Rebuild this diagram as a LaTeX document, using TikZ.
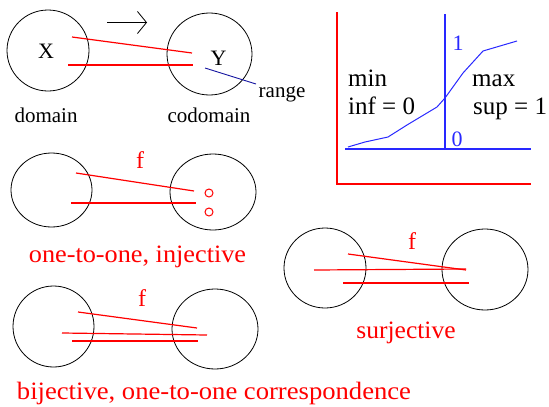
\documentclass[tikz,border=0pt]{standalone}
\usepackage{fontspec}
\setmainfont{Liberation Serif}
\usetikzlibrary{arrows.meta,shapes.geometric}
\definecolor{fred}{RGB}{255,0,0}
\definecolor{gblue}{RGB}{40,40,255}
\definecolor{rblue}{RGB}{20,20,160}
\tikzset{
  setc/.style={draw=black,line width=0.8pt,ellipse,inner sep=0pt,outer sep=0pt},
  mapl/.style={draw=fred,line width=1.2pt},
  lbl/.style={anchor=base,inner sep=0pt,font=\fontsize{21}{24}\selectfont},
  big/.style={anchor=base,inner sep=0pt,font=\fontsize{25}{28}\selectfont},
  rtxt/.style={anchor=base,inner sep=0pt,text=fred,font=\fontsize{25}{28}\selectfont},
  fl/.style={anchor=base,inner sep=0pt,text=fred,font=\fontsize{24}{28}\selectfont},
  btxt/.style={anchor=base,inner sep=0pt,text=gblue,font=\fontsize{22}{26}\selectfont},
}
\begin{document}
\begin{tikzpicture}[x=1pt,y=-1pt]
\useasboundingbox (0,0) rectangle (549,407);
% ---- top: domain / codomain
\node[setc,minimum width=82pt,minimum height=81pt] (D) at (48,50.5) {};
\node[setc,minimum width=85pt,minimum height=82pt] (C) at (209.5,54) {};
\node[lbl,font=\fontsize{22}{24}\selectfont] (X) at (46,58) {X};
\node[lbl,font=\fontsize{22}{24}\selectfont] (Y) at (218.5,65) {Y};
\node[lbl] (dom) at (46,122) {domain};
\node[lbl] (cod) at (209,122) {codomain};
\node[lbl] (rng) at (282,97) {range};
\coordinate (ar1) at (107,22.5); \coordinate (ar2) at (147,22.5);
\draw[line width=0.8pt,-{Straight Barb[length=9pt,width=22pt,line width=0.8pt]}] (ar1) -- (ar2);
\coordinate (a1) at (72,37); \coordinate (b1) at (192,53);
\coordinate (a2) at (68,65); \coordinate (b2) at (193,65);
\draw[mapl] (a1) -- (b1); \draw[mapl] (a2) -- (b2);
\coordinate (r1) at (205,68); \coordinate (r2) at (256,84);
\draw[rblue,line width=0.9pt] (r1) -- (r2);
% ---- graph
\coordinate (o) at (337,184); \coordinate (oy) at (337,12); \coordinate (ox) at (531,184);
\draw[fred,line width=1.2pt] (oy) -- (o) -- (ox);
\coordinate (vy1) at (445,14); \coordinate (vy2) at (445,149);
\coordinate (hx1) at (345,149); \coordinate (hx2) at (531,149);
\draw[gblue,line width=1.2pt] (vy1) -- (vy2);
\draw[gblue,line width=1.2pt] (hx1) -- (hx2);
\draw[gblue,line width=1pt] (348,147) -- (365,142) -- (388,137) -- (407,125) -- (437,107) -- (445,98) -- (463,73) -- (483,51) -- (517,41);
\node[btxt] (one) at (458,50) {1};
\node[btxt] (zero) at (457,146) {0};
\node[big,anchor=base west] (min) at (348,86) {min};
\node[big,anchor=base west] (inf) at (348,114) {inf = 0};
\node[big,anchor=base west] (max) at (472,86) {max};
\node[big,anchor=base west] (sup) at (473,114) {sup = 1};
% ---- injective
\node[setc,minimum width=81pt,minimum height=74pt] (I1) at (51.5,190) {};
\node[setc,minimum width=86pt,minimum height=76pt] (I2) at (213,192) {};
\node[fl] (f1) at (140,168) {f};
\coordinate (ia1) at (76,173); \coordinate (ib1) at (194,191);
\coordinate (ia2) at (71,203); \coordinate (ib2) at (196,203);
\draw[mapl] (ia1) -- (ib1); \draw[mapl] (ia2) -- (ib2);
\node[draw=fred,line width=1pt,circle,minimum size=8pt,inner sep=0pt] (p1) at (209,193) {};
\node[draw=fred,line width=1pt,circle,minimum size=8pt,inner sep=0pt] (p2) at (209,212) {};
\node[rtxt,xscale=1.05] (inj) at (137.5,262) {one-to-one, injective};
% ---- surjective
\node[setc,minimum width=82pt,minimum height=80pt] (S1) at (325,268) {};
\node[setc,minimum width=86pt,minimum height=81pt] (S2) at (485,269.5) {};
\node[fl] (f2) at (412,249) {f};
\coordinate (sa1) at (348,254); \coordinate (sb1) at (466,270);
\coordinate (sa2) at (314,270); \coordinate (sb2) at (466,269);
\coordinate (sa3) at (343,283); \coordinate (sb3) at (469,283);
\draw[mapl] (sa1) -- (sb1); \draw[mapl] (sa2) -- (sb2); \draw[mapl] (sa3) -- (sb3);
\node[rtxt,xscale=1.02] (sur) at (406,338) {surjective};
% ---- bijective
\node[setc,minimum width=81pt,minimum height=81pt] (B1) at (53.5,326.5) {};
\node[setc,minimum width=86pt,minimum height=80pt] (B2) at (215,329) {};
\node[fl] (f3) at (142,306) {f};
\coordinate (ba1) at (78,312); \coordinate (bb1) at (197,328);
\coordinate (ba2) at (62,333); \coordinate (bb2) at (207,335);
\coordinate (ba3) at (72,341); \coordinate (bb3) at (198,341);
\draw[mapl] (ba1) -- (bb1); \draw[mapl] (ba2) -- (bb2); \draw[mapl] (ba3) -- (bb3);
\node[rtxt,xscale=1.065] (bij) at (214,399) {bijective, one-to-one correspondence};
\end{tikzpicture}
\end{document}
